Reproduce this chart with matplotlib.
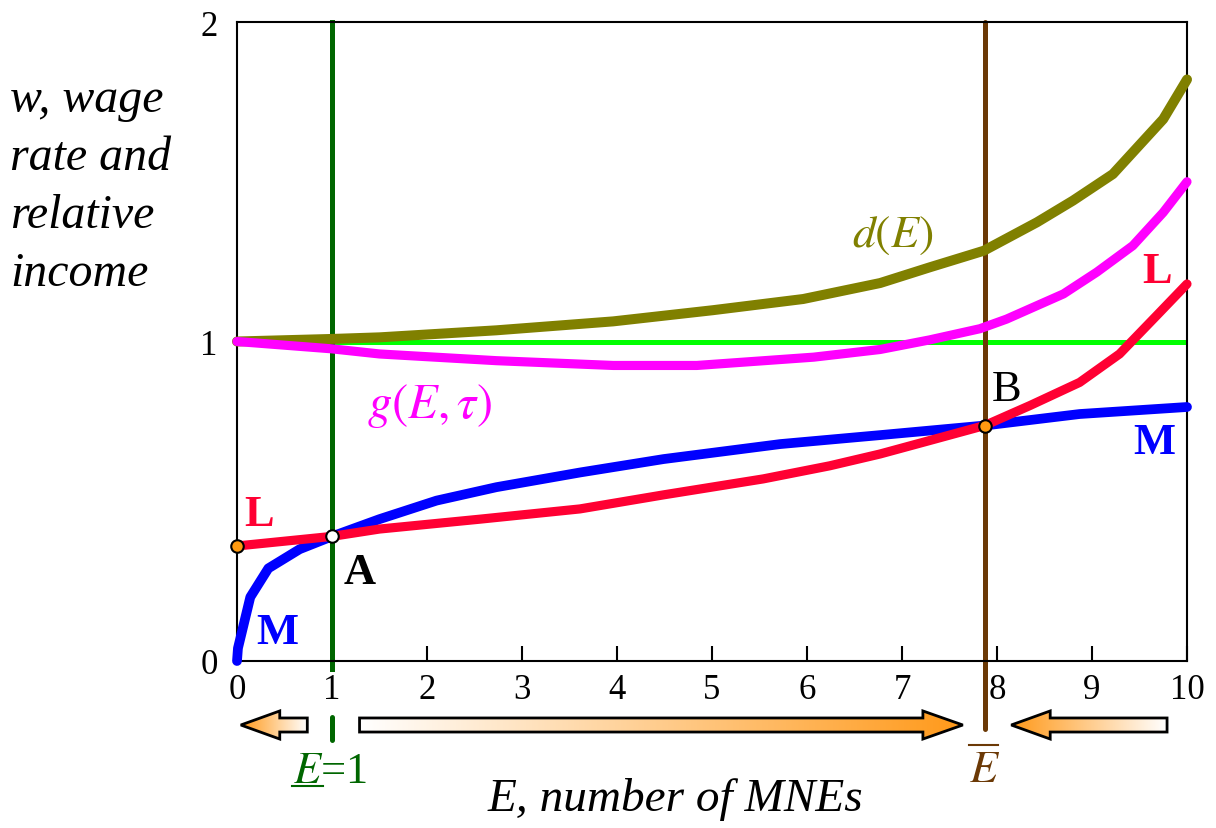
import numpy as np
import matplotlib
matplotlib.use("Agg")
import matplotlib.pyplot as plt
from matplotlib.patches import Polygon

plt.rcParams['font.family'] = ['Liberation Serif', 'DejaVu Serif']
plt.rcParams['mathtext.fontset'] = 'stix'

# ---------------- data ----------------
M_x = [0, 0.01, 0.14, 0.33, 0.66, 1.0, 1.5, 2.1, 2.73, 3.61, 4.49, 5.72, 6.77, 7.87, 8.87, 10]
M_y = [0, 0.04, 0.20, 0.29, 0.35, 0.39, 0.444, 0.502, 0.544, 0.59, 0.632, 0.679, 0.707, 0.737, 0.773, 0.795]

L_x = [0, 1, 1.5, 2.56, 3.61, 4.49, 5.54, 6.24, 6.77, 7.29, 7.87, 8.35, 8.87, 9.29, 9.68, 10]
L_y = [0.36, 0.39, 0.413, 0.444, 0.476, 0.52, 0.57, 0.611, 0.648, 0.69, 0.737, 0.80, 0.872, 0.961, 1.081, 1.18]

g_x = [0, 1, 1.5, 2.73, 3.96, 4.84, 6.07, 6.77, 7.29, 7.82, 8.1, 8.7, 9.05, 9.43, 9.75, 10]
g_y = [1.0, 0.977, 0.961, 0.94, 0.925, 0.925, 0.951, 0.975, 1.005, 1.04, 1.07, 1.149, 1.217, 1.30, 1.404, 1.50]

d_x = [0, 1, 1.5, 2.73, 3.96, 5.01, 5.96, 6.77, 7.29, 7.86, 8.42, 8.8, 9.22, 9.75, 10]
d_y = [1.0, 1.008, 1.013, 1.035, 1.063, 1.098, 1.133, 1.183, 1.232, 1.284, 1.373, 1.441, 1.524, 1.696, 1.82]

one_level = 1.0
E_low = 1.0
E_bar = 7.87
point_L0 = (0, 0.36)
point_A = (1.0, 0.39)
point_B = (7.87, 0.737)

x_ticks = [0, 1, 2, 3, 4, 5, 6, 7, 8, 9, 10]
y_ticks = [0, 1, 2]

# arrows: (tail, head base, tip)
arrows = [(0.74, 0.45, 0.04), (1.29, 7.22, 7.64), (9.79, 8.56, 8.15)]

# ---------------- figure ----------------
W, H = 1216, 829
fig = plt.figure(figsize=(W / 100, H / 100), dpi=100)
ax = fig.add_axes([237 / W, 1 - 662 / H, 950 / W, 639 / H])
ax.set_xlim(0, 10)
ax.set_ylim(0, 2)

red = '#ff0033'
blue = '#0000ff'
pink = '#ff00ff'
olive = '#808000'
lime = '#00ff00'
dgreen = '#006600'
brown = '#6b3906'
orange = '#ff9a10'

ax.plot([0, 10], [one_level, one_level], color=lime, lw=3.6, zorder=2)
ax.plot([E_low, E_low], [-0.025, 2], color=dgreen, lw=3.6, zorder=2.5, clip_on=False)
ax.plot([E_low, E_low], [-0.175, -0.247], color=dgreen, lw=3.6, zorder=2.5, clip_on=False,
        solid_capstyle='round')
ax.plot([E_bar, E_bar], [-0.213, 2], color=brown, lw=3.6, zorder=2.5, clip_on=False,
        solid_capstyle='round')

ax.plot(d_x, d_y, color=olive, lw=7.2, zorder=3, clip_on=False, solid_capstyle='round')
ax.plot(g_x, g_y, color=pink, lw=6.6, zorder=3.2, clip_on=False, solid_capstyle='round')
ax.plot(M_x, M_y, color=blue, lw=7.0, zorder=3.4, clip_on=False, solid_capstyle='round')
ax.plot(L_x, L_y, color=red, lw=6.6, zorder=3.6, clip_on=False, solid_capstyle='round')

ax.plot(*point_L0, marker='o', ms=9, mfc=orange, mec='black', mew=1.5, zorder=5, clip_on=False)
ax.plot(*point_A, marker='o', ms=9, mfc='white', mec='black', mew=1.5, zorder=5, clip_on=False)
ax.plot(*point_B, marker='o', ms=9, mfc=orange, mec='black', mew=1.5, zorder=5, clip_on=False)

for s in ax.spines.values():
    s.set_linewidth(1.5)
    s.set_color('black')
    s.set_zorder(2.6)

ax.set_xticks(x_ticks)
ax.set_xticklabels([str(t) for t in x_ticks])
ax.set_yticks(y_ticks)
ax.set_yticklabels([str(t) for t in y_ticks])
ax.tick_params(axis='x', direction='in', length=11, width=1.5, pad=9, labelsize=25)
ax.tick_params(axis='y', length=0, pad=14, labelsize=25)

# labels
ax.text(6.905, 1.333, r'$d(E)$', color=olive, fontsize=33, ha='center', va='center')
ax.text(2.03, 0.80, r'$g(E,\tau)$', color=pink, fontsize=35, ha='center', va='center')
ax.text(0.23, 0.46, 'L', color=red, fontsize=32, fontweight='bold', ha='center', va='center')
ax.text(9.69, 1.22, 'L', color=red, fontsize=32, fontweight='bold', ha='center', va='center')
ax.text(0.42, 0.09, 'M', color=blue, fontsize=32, fontweight='bold', ha='center', va='center')
ax.text(9.66, 0.685, 'M', color=blue, fontsize=32, fontweight='bold', ha='center', va='center')
ax.text(1.29, 0.28, 'A', color='black', fontsize=32, fontweight='bold', ha='center', va='center')
ax.text(8.1, 0.85, 'B', color='black', fontsize=32, ha='center', va='center')

# E-bar label (E with overbar)
ax.text(E_bar, -0.34, r'$E$', color=brown, fontsize=33, ha='center', va='center', clip_on=False)
ax.plot([7.71, 8.01], [-0.263, -0.263], color=brown, lw=1.5, clip_on=False)
# E-underbar = 1
ax.text(0.98, -0.345, r'$E$=1', color=dgreen, fontsize=32, ha='center', va='center', clip_on=False)
ax.plot([0.58, 0.9], [-0.39, -0.39], color=dgreen, lw=1.5, clip_on=False)

fig.text(675 / W, 1 - 800 / H, 'E, number of MNEs', fontsize=34, style='italic',
         ha='center', va='center')

ylab = ['w, wage', 'rate and', 'relative', 'income']
for i, line in enumerate(ylab):
    fig.text(10 / W, 1 - (112 + 58 * i) / H, line, fontsize=34.5, style='italic',
             ha='left', va='baseline')

# ---------------- gradient arrows ----------------
axa = fig.add_axes([237 / W, 1 - 752 / H, 950 / W, 52 / H])
axa.set_axis_off()
axa.patch.set_alpha(0)
sh, hh = 0.27, 0.54
white = np.array([1.0, 1.0, 1.0])
oc = np.array([1.0, 0.6, 0.1])
for tail, base, tip in arrows:
    verts = [(tail, -sh), (base, -sh), (base, -hh), (tip, 0), (base, hh), (base, sh), (tail, sh)]
    poly = Polygon(verts, closed=True, facecolor='none', edgecolor='black', lw=2, zorder=3,
                   joinstyle='miter')
    axa.add_patch(poly)
    n = 256
    t = np.linspace(0, 1, n)
    cols = (1 - t)[:, None] * white + t[:, None] * oc
    if tip < tail:
        cols = cols[::-1]
    img = cols[None, :, :]
    im = axa.imshow(img, extent=(min(tail, tip), max(tail, tip), -hh, hh), aspect='auto',
                    zorder=2, interpolation='bilinear')
    im.set_clip_path(poly)
axa.set_xlim(0, 10)
axa.set_ylim(-1, 1)

fig.savefig('out.png', dpi=100)
